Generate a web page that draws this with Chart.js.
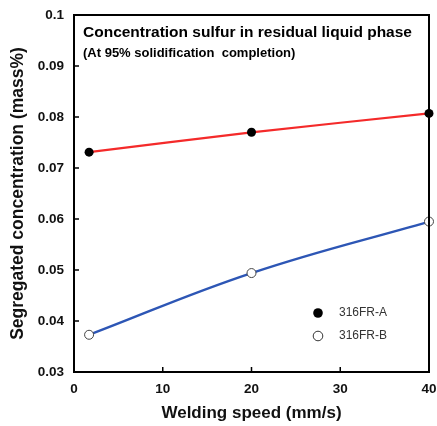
<!DOCTYPE html>
<html><head><meta charset="utf-8">
<script src="https://cdn.jsdelivr.net/npm/chart.js@4/dist/chart.umd.min.js"></script>
<style>html,body{margin:0;padding:0;background:#fff}#wrap{width:437px;height:426px}</style>
</head><body><div id="wrap"><canvas id="c" width="437" height="426"></canvas></div>
<script>
const weldingSpeed = [1.7, 20, 40];
const seriesA = [0.0731, 0.0770, 0.0807];
const seriesB = [0.0373, 0.0494, 0.0595];
const xTicks = [0, 10, 20, 30, 40];
const yTicks = [0.03, 0.04, 0.05, 0.06, 0.07, 0.08, 0.09, 0.1];
const seriesNames = ['316FR-A', '316FR-B'];
const titleLine1 = 'Concentration sulfur in residual liquid phase';
const titleLine2 = '(At 95% solidification  completion)';

const FONT = '"Liberation Sans", Arial, sans-serif';

const framePlugin = {
  id: 'frame',
  afterDatasetsDraw(chart) {
    const {ctx, chartArea: a, scales} = chart;
    ctx.save();
    ctx.strokeStyle = '#000';
    ctx.lineWidth = 2;
    ctx.strokeRect(a.left, a.top, a.right - a.left, a.bottom - a.top);
    ctx.lineWidth = 1.5;
    ctx.beginPath();
    xTicks.forEach(v => {
      const px = scales.x.getPixelForValue(v);
      ctx.moveTo(px, a.bottom); ctx.lineTo(px, a.bottom - 5);
    });
    yTicks.forEach(v => {
      const py = scales.y.getPixelForValue(v);
      ctx.moveTo(a.left, py); ctx.lineTo(a.left + 5, py);
    });
    ctx.stroke();
    ctx.fillStyle = '#000';
    ctx.textBaseline = 'middle';
    ctx.textAlign = 'left';
    ctx.font = 'bold 15.5px ' + FONT;
    ctx.fillText(titleLine1, a.left + 9, 33);
    ctx.font = 'bold 13px ' + FONT;
    ctx.fillText(titleLine2, a.left + 9, 53);
    const lx = 318, ly1 = 313, ly2 = 336;
    ctx.beginPath(); ctx.arc(lx, ly1, 4.8, 0, Math.PI * 2); ctx.fillStyle = '#000'; ctx.fill();
    ctx.beginPath(); ctx.arc(lx, ly2, 4.8, 0, Math.PI * 2); ctx.fillStyle = '#fff'; ctx.fill();
    ctx.strokeStyle = '#333'; ctx.lineWidth = 1; ctx.stroke();
    ctx.fillStyle = '#333';
    ctx.font = '12px ' + FONT;
    ctx.fillText(seriesNames[0], 339, ly1);
    ctx.fillText(seriesNames[1], 339, ly2);
    ctx.restore();
  }
};

const fmt = v => String(parseFloat(Number(v).toFixed(3)));

new Chart(document.getElementById('c'), {
  type: 'line',
  data: {
    datasets: [
      {
        label: seriesNames[0],
        data: weldingSpeed.map((x, i) => ({x, y: seriesA[i]})),
        borderColor: '#f42a2a', borderWidth: 2.2,
        pointBackgroundColor: '#000', pointBorderColor: '#000',
        pointRadius: 4.5, pointBorderWidth: 0,
        tension: 0.2
      },
      {
        label: seriesNames[1],
        data: weldingSpeed.map((x, i) => ({x, y: seriesB[i]})),
        borderColor: '#2d56b5', borderWidth: 2.4,
        pointBackgroundColor: '#fff', pointBorderColor: '#444',
        pointRadius: 4.5, pointBorderWidth: 1,
        tension: 0.4
      }
    ]
  },
  plugins: [framePlugin],
  options: {
    responsive: false, animation: false, devicePixelRatio: 1,
    clip: false,
    layout: {padding: {left: 0, right: 8, top: 15, bottom: 0}},
    plugins: {legend: {display: false}, tooltip: {enabled: false}},
    scales: {
      x: {
        type: 'linear', min: 0, max: 40,
        afterFit: s => { s.height = 54; s.paddingLeft = 0; s.paddingRight = 0; },
        afterBuildTicks: s => { s.ticks = xTicks.map(v => ({value: v})); },
        grid: {display: false, drawTicks: false},
        border: {display: false},
        ticks: {color: '#111', padding: 9, font: {family: FONT, size: 13.5, weight: 'bold'}, callback: fmt, maxRotation: 0},
        title: {display: true, text: 'Welding speed (mm/s)', color: '#111', padding: {top: 4, bottom: 2}, font: {family: FONT, size: 17, weight: 'bold'}}
      },
      y: {
        type: 'linear', min: 0.03, max: 0.1,
        afterFit: s => { s.width = 74; s.paddingTop = 0; s.paddingBottom = 0; },
        afterBuildTicks: s => { s.ticks = yTicks.map(v => ({value: v})); },
        grid: {display: false, drawTicks: false},
        border: {display: false},
        ticks: {color: '#111', padding: 10, font: {family: FONT, size: 13.5, weight: 'bold'}, callback: fmt},
        title: {display: true, text: 'Segregated concentration (mass%)', color: '#111', padding: {top: 8, bottom: 0}, font: {family: FONT, size: 17.5, weight: 'bold'}}
      }
    }
  }
});
</script></body></html>
